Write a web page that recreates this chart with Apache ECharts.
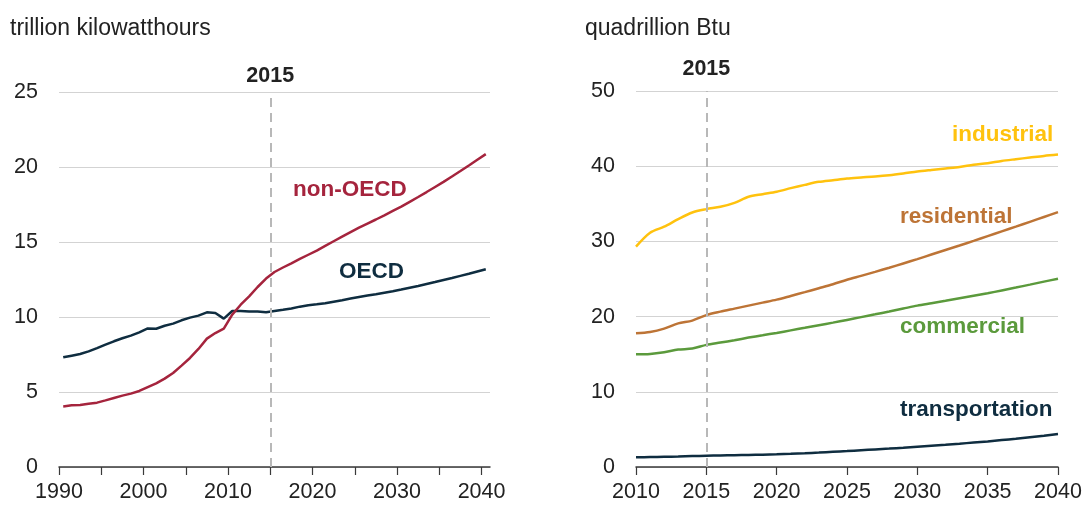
<!DOCTYPE html>
<html>
<head>
<meta charset="utf-8">
<script src="https://cdn.jsdelivr.net/npm/echarts@6/dist/echarts.min.js"></script>
<style>
html,body{margin:0;padding:0;background:#fff;}
#c{width:1091px;height:505px;}
</style>
</head>
<body>
<div id="c"></div>
<script>
// Left panel: electricity generation (trillion kWh)
const yearsLeft = [1990,1991,1992,1993,1994,1995,1996,1997,1998,1999,2000,2001,2002,2003,2004,2005,2006,2007,2008,2009,2010,2011,2012,2013,2014,2015,2016,2017,2018,2019,2020,2021,2022,2023,2024,2025,2026,2027,2028,2029,2030,2031,2032,2033,2034,2035,2036,2037,2038,2039,2040];
const oecd = [7.31,7.42,7.53,7.71,7.93,8.16,8.38,8.58,8.76,8.98,9.24,9.22,9.42,9.56,9.78,9.96,10.09,10.31,10.27,9.89,10.40,10.40,10.36,10.36,10.31,10.40,10.48,10.57,10.69,10.79,10.85,10.92,11.02,11.12,11.23,11.33,11.43,11.52,11.62,11.72,11.83,11.95,12.07,12.20,12.33,12.47,12.60,12.74,12.88,13.03,13.18];
const nonOecd = [4.04,4.11,4.13,4.22,4.29,4.44,4.60,4.76,4.89,5.07,5.33,5.58,5.89,6.27,6.76,7.27,7.87,8.56,8.93,9.22,10.16,10.82,11.38,12.00,12.56,13.00,13.30,13.58,13.87,14.15,14.43,14.74,15.05,15.36,15.66,15.96,16.23,16.50,16.78,17.07,17.36,17.68,18.00,18.33,18.67,19.01,19.37,19.73,20.10,20.48,20.86];
const leftTickLabels = [1990,2000,2010,2020,2030,2040];
const leftTicks = [1990,1995,2000,2005,2010,2015,2020,2025,2030,2035,2040];

// Right panel: energy consumption by sector (quadrillion Btu)
const yearsRight = [2010,2011,2012,2013,2014,2015,2016,2017,2018,2019,2020,2021,2022,2023,2024,2025,2026,2027,2028,2029,2030,2031,2032,2033,2034,2035,2036,2037,2038,2039,2040];
const industrial = [29.3,31.15,31.95,32.96,33.85,34.29,34.6,35.13,35.93,36.28,36.6,37.08,37.52,37.92,38.14,38.36,38.5,38.63,38.8,39.03,39.29,39.5,39.7,39.9,40.18,40.4,40.7,40.93,41.15,41.37,41.55];
const residential = [17.79,17.96,18.4,19.1,19.47,20.2,20.66,21.06,21.46,21.86,22.26,22.75,23.25,23.77,24.3,24.9,25.42,25.95,26.5,27.07,27.65,28.25,28.85,29.45,30.07,30.7,31.33,31.96,32.6,33.25,33.9];
const commercial = [15.0,15.04,15.27,15.62,15.75,16.24,16.55,16.86,17.21,17.52,17.83,18.17,18.51,18.86,19.2,19.56,19.93,20.3,20.68,21.07,21.46,21.78,22.1,22.43,22.76,23.1,23.48,23.86,24.25,24.65,25.04];
const transportation = [1.28,1.32,1.36,1.4,1.45,1.5,1.53,1.57,1.6,1.64,1.68,1.75,1.83,1.92,2.02,2.12,2.23,2.34,2.45,2.57,2.7,2.83,2.96,3.1,3.25,3.4,3.58,3.76,3.96,4.16,4.38];
const rightTicks = [2010,2015,2020,2025,2030,2035,2040];

const FONT = '"Liberation Sans", Arial, sans-serif';
const NAVY = '#0f2d40', RED = '#a5243d', YELLOW = '#ffc20e', BROWN = '#bd7436', GREEN = '#5b9a3c';

// annual values plotted at mid-year on the left panel
const pairsMid = (ys, vs) => ys.map((y, i) => [y + 0.5, vs[i]]);
const pairs = (ys, vs) => ys.map((y, i) => [y, vs[i]]);

const axisX = (gi, min, max, ticks, labels) => ({
  type: 'value', gridIndex: gi, min: min, max: max,
  axisLine: {show: true, onZero: false, lineStyle: {color: '#3a3a3a', width: 1.5}},
  axisTick: {show: true, length: 8, customValues: ticks, lineStyle: {color: '#3a3a3a', width: 1.2}},
  axisLabel: {customValues: labels, formatter: v => String(v), color: '#222', fontSize: 21.5, fontFamily: FONT, margin: 14},
  splitLine: {show: false}
});
const axisY = (gi, max, interval) => ({
  type: 'value', gridIndex: gi, min: 0, max: max, interval: interval,
  axisLine: {show: false}, axisTick: {show: false},
  axisLabel: {color: '#222', fontSize: 21.5, fontFamily: FONT, margin: 21},
  splitLine: {lineStyle: {color: '#d3d3d3', width: 1.2}}
});
const vline = (dist) => ({
  silent: true, symbol: ['none', 'none'],
  lineStyle: {color: '#b8b8b8', type: [9, 6], width: 2},
  label: {show: true, position: 'end', formatter: '2015', color: '#222', fontSize: 21.5, fontWeight: 'bold', fontFamily: FONT, distance: dist},
  data: [{xAxis: 2015}]
});
const line = (name, xi, yi, data, color, extra) => Object.assign({
  name: name, type: 'line', xAxisIndex: xi, yAxisIndex: yi, data: data,
  showSymbol: false, symbol: 'none', lineStyle: {color: color, width: 2.5}, itemStyle: {color: color},
  animation: false, z: 3
}, extra || {});

const txt = (x, y, text, color, bold, size) => ({
  type: 'text', left: x, top: y,
  style: {text: text, fill: color, font: (bold ? 'bold ' : '') + size + 'px ' + FONT}
});

const chart = echarts.init(document.getElementById('c'), null, {renderer: 'canvas'});
chart.setOption({
  backgroundColor: '#fff',
  animation: false,
  grid: [
    {left: 59, right: 601, top: 92, bottom: 38},
    {left: 636, right: 33, top: 91, bottom: 38}
  ],
  xAxis: [axisX(0, 1990, 2041, leftTicks, leftTickLabels), axisX(1, 2010, 2040, rightTicks, rightTicks)],
  yAxis: [axisY(0, 25, 5), axisY(1, 50, 10)],
  series: [
    line('OECD', 0, 0, pairsMid(yearsLeft, oecd), NAVY, {markLine: vline(5)}),
    line('non-OECD', 0, 0, pairsMid(yearsLeft, nonOecd), RED),
    line('industrial', 1, 1, pairs(yearsRight, industrial), YELLOW, {markLine: vline(11), smooth: 0.3}),
    line('residential', 1, 1, pairs(yearsRight, residential), BROWN, {smooth: 0.3}),
    line('commercial', 1, 1, pairs(yearsRight, commercial), GREEN, {smooth: 0.3}),
    line('transportation', 1, 1, pairs(yearsRight, transportation), NAVY, {smooth: 0.3})
  ],
  graphic: [
    txt(10, 17, 'trillion kilowatthours', '#222', false, 23),
    txt(585, 17, 'quadrillion Btu', '#222', false, 23),
    txt(293, 178, 'non-OECD', RED, true, 22.5),
    txt(339, 260, 'OECD', NAVY, true, 22.5),
    txt(952, 123, 'industrial', YELLOW, true, 22.5),
    txt(900, 205, 'residential', BROWN, true, 22.5),
    txt(900, 315, 'commercial', GREEN, true, 22.5),
    txt(900, 398, 'transportation', NAVY, true, 22.5)
  ]
});
</script>
</body>
</html>
